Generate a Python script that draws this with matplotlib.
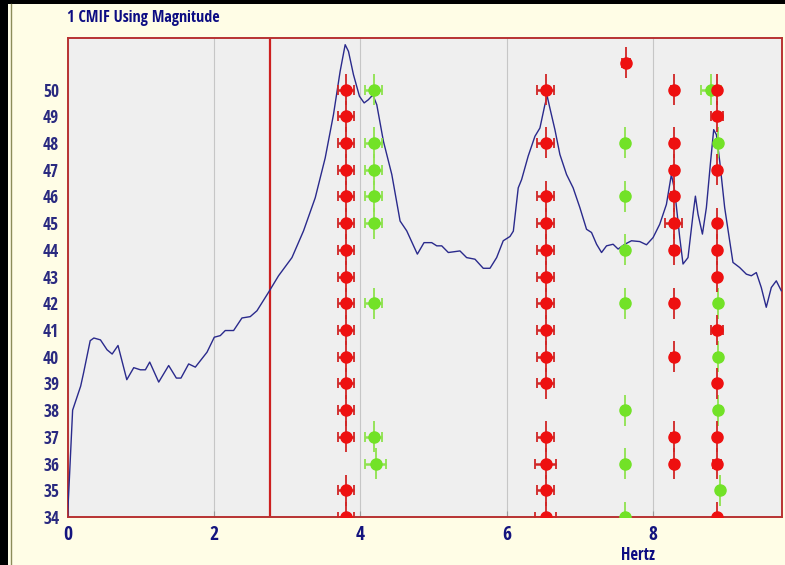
import matplotlib
matplotlib.use("Agg")
import matplotlib.pyplot as plt
from matplotlib.patches import Rectangle
from matplotlib.lines import Line2D

# ---- CMIF curve (Hz, magnitude) ----
freq = [0.0, 0.02, 0.07, 0.18, 0.22, 0.31, 0.36, 0.45, 0.54, 0.61, 0.69, 0.81,
        0.905, 0.996, 1.064, 1.123, 1.246, 1.382, 1.487, 1.55, 1.655, 1.746,
        1.906, 2.005, 2.087, 2.155, 2.269, 2.383, 2.496, 2.588, 2.746, 2.883,
        3.066, 3.224, 3.384, 3.52, 3.633, 3.724, 3.793, 3.838, 3.906, 3.988,
        4.052, 4.11, 4.171, 4.225, 4.315, 4.43, 4.543, 4.634, 4.779, 4.87,
        4.975, 5.044, 5.112, 5.202, 5.361, 5.452, 5.566, 5.679, 5.771, 5.862,
        5.952, 6.044, 6.09, 6.157, 6.203, 6.293, 6.385, 6.453, 6.521, 6.553,
        6.589, 6.658, 6.726, 6.817, 6.907, 6.999, 7.09, 7.158, 7.227, 7.295,
        7.363, 7.453, 7.521, 7.613, 7.704, 7.817, 7.909, 7.999, 8.09, 8.181,
        8.249, 8.295, 8.363, 8.408, 8.476, 8.545, 8.577, 8.613, 8.673, 8.727,
        8.781, 8.827, 8.864, 8.909, 8.977, 9.045, 9.09, 9.181, 9.273, 9.341,
        9.409, 9.477, 9.545, 9.614, 9.682, 9.75]
magnitude = [34.0, 35.1, 38.0, 38.9, 39.4, 40.6, 40.7, 40.63, 40.26, 40.1, 40.42, 39.14,
             39.59, 39.51, 39.51, 39.8, 39.05, 39.67, 39.2, 39.2, 39.73, 39.61,
             40.17, 40.73, 40.79, 40.98, 40.98, 41.45, 41.5, 41.72, 42.41, 43.03,
             43.71, 44.71, 45.95, 47.44, 49.06, 50.68, 51.68, 51.43, 50.56, 49.75,
             49.5, 49.62, 49.8, 49.43, 48.07, 46.82, 45.08, 44.71, 43.84, 44.27,
             44.27, 44.15, 44.15, 43.9, 43.96, 43.71, 43.65, 43.31, 43.31, 43.71,
             44.34, 44.5, 44.7, 46.32, 46.63, 47.51, 48.25, 48.56, 49.43, 49.75,
             49.31, 48.5, 47.57, 46.82, 46.32, 45.58, 44.77, 44.65, 44.21, 43.9,
             44.15, 44.21, 44.03, 44.21, 44.34, 44.31, 44.19, 44.46, 44.96, 45.7,
             46.82, 46.2, 44.46, 43.47, 43.71, 45.33, 46.01, 45.33, 44.59, 45.58,
             47.2, 48.5, 48.31, 47.32, 45.58, 44.34, 43.53, 43.34, 43.09, 43.03,
             43.15, 42.59, 41.85, 42.59, 42.84, 42.47]

cursor_hz = 2.76

# ---- stable (red) poles: frequency, model order, frequency uncertainty ----
red_f = ([3.80] * 16 + [6.53] * 14 + [7.63] + [8.28] * 10 + [8.87] * 11)
red_order = ([50, 49, 48, 47, 46, 45, 44, 43, 42, 41, 40, 39, 38, 37, 35, 34]
             + [50, 48, 46, 45, 44, 43, 42, 41, 40, 39, 37, 36, 35, 34]
             + [51]
             + [50, 48, 47, 46, 45, 44, 42, 40, 37, 36]
             + [50, 49, 47, 45, 44, 43, 41, 39, 37, 36, 34])
red_ferr = ([0.11] * 16
            + [0.11, 0.11, 0.11, 0.11, 0.11, 0.11, 0.11, 0.11, 0.11, 0.11, 0.11, 0.14, 0.11, 0.14]
            + [0.05]
            + [0.03, 0.03, 0.03, 0.03, 0.12, 0.03, 0.03, 0.03, 0.03, 0.03]
            + [0.03, 0.08, 0.03, 0.03, 0.03, 0.03, 0.08, 0.03, 0.03, 0.05, 0.03])

# ---- unstable (green) poles ----
green_f = ([4.18] * 7 + [4.21] + [7.62] * 7 + [8.79] + [8.89] * 4 + [8.91])
green_order = ([50, 48, 47, 46, 45, 42, 37, 36]
               + [48, 46, 44, 42, 38, 36, 34]
               + [50]
               + [48, 42, 40, 38, 35])
green_ferr = ([0.11] * 7 + [0.14] + [0.03] * 7 + [0.14] + [0.03] * 5)

x_ticks = [0, 2, 4, 6, 8]
y_ticks = list(range(34, 51))

navy = "#14147E"
narrow = ["Liberation Sans Narrow", "Open Sans Condensed", "Roboto Condensed",
          "DejaVu Sans"]

fig = plt.figure(figsize=(7.85, 5.65), dpi=100, facecolor="#FFFDE6")
ax = fig.add_axes([67.5 / 785, 1 - 517 / 565, (782 - 67.5) / 785, (517 - 38) / 565])
ax.set_facecolor("#EFEFEF")

ax.set_xlim(0, 9.76)
ax.set_ylim(34, 51.93)
ax.set_xticks(x_ticks)
ax.set_yticks(y_ticks)
ax.grid(axis="x", color="#C6C6C6", linewidth=0.8)
ax.set_axisbelow(True)

ax.set_xticklabels([str(t) for t in x_ticks], fontweight="bold", color=navy,
                   fontsize=14, family=narrow, fontstretch="condensed")
ax.set_yticklabels([str(t) for t in y_ticks], color="#2A2A80", fontsize=12.5,
                   fontweight="normal", family=narrow, fontstretch="condensed")
ax.tick_params(axis="y", length=0, pad=6)
ax.tick_params(axis="x", direction="in", length=4, color="#9A9A9A", pad=6)

for s in ax.spines.values():
    s.set_color("#B83232")
    s.set_linewidth(1.4)

ax.axvline(cursor_hz, color="#CC1F1F", linewidth=1.6, zorder=2)
ax.plot(freq, magnitude, color="#2A2A8C", linewidth=1.0, zorder=3)


def draw_poles(f, order, ferr, face, bar):
    ax.errorbar(f, order, yerr=0.58, fmt="none", ecolor=bar, elinewidth=1.3,
                capsize=0, zorder=4)
    ax.errorbar(f, order, xerr=ferr, fmt="none", ecolor=bar, elinewidth=1.8,
                capsize=3.5, capthick=1.3, zorder=4)
    ax.plot(f, order, "o", color=face, markeredgecolor=face, markersize=8,
            linestyle="none", zorder=5)


draw_poles(green_f, green_order, green_ferr, "#72E227", "#8EE24E")
draw_poles(red_f, red_order, red_ferr, "#EE1010", "#D02525")

fig.text(67 / 785, 1 - 18 / 565, "1 CMIF Using Magnitude", ha="left", va="center",
         fontweight="bold", color="#0C0C82", fontsize=11.5, family=narrow,
         fontstretch="condensed")
fig.text(638 / 785, 1 - 555 / 565, "Hertz", ha="center", va="center",
         fontweight="bold", color="#0C0C82", fontsize=12, family=narrow,
         fontstretch="condensed")

# window frame
fig.patches.append(Rectangle((0, 0), 8 / 785, 1, transform=fig.transFigure,
                             facecolor="black", edgecolor="none"))
fig.patches.append(Rectangle((0, 1 - 4 / 565), 1, 4 / 565, transform=fig.transFigure,
                             facecolor="black", edgecolor="none"))
fig.lines.append(Line2D([11 / 785, 11 / 785], [0, 1 - 4 / 565], transform=fig.transFigure,
                        color="#8C8C5A", linewidth=1.0))

fig.savefig("out.png", dpi=100, facecolor=fig.get_facecolor())
